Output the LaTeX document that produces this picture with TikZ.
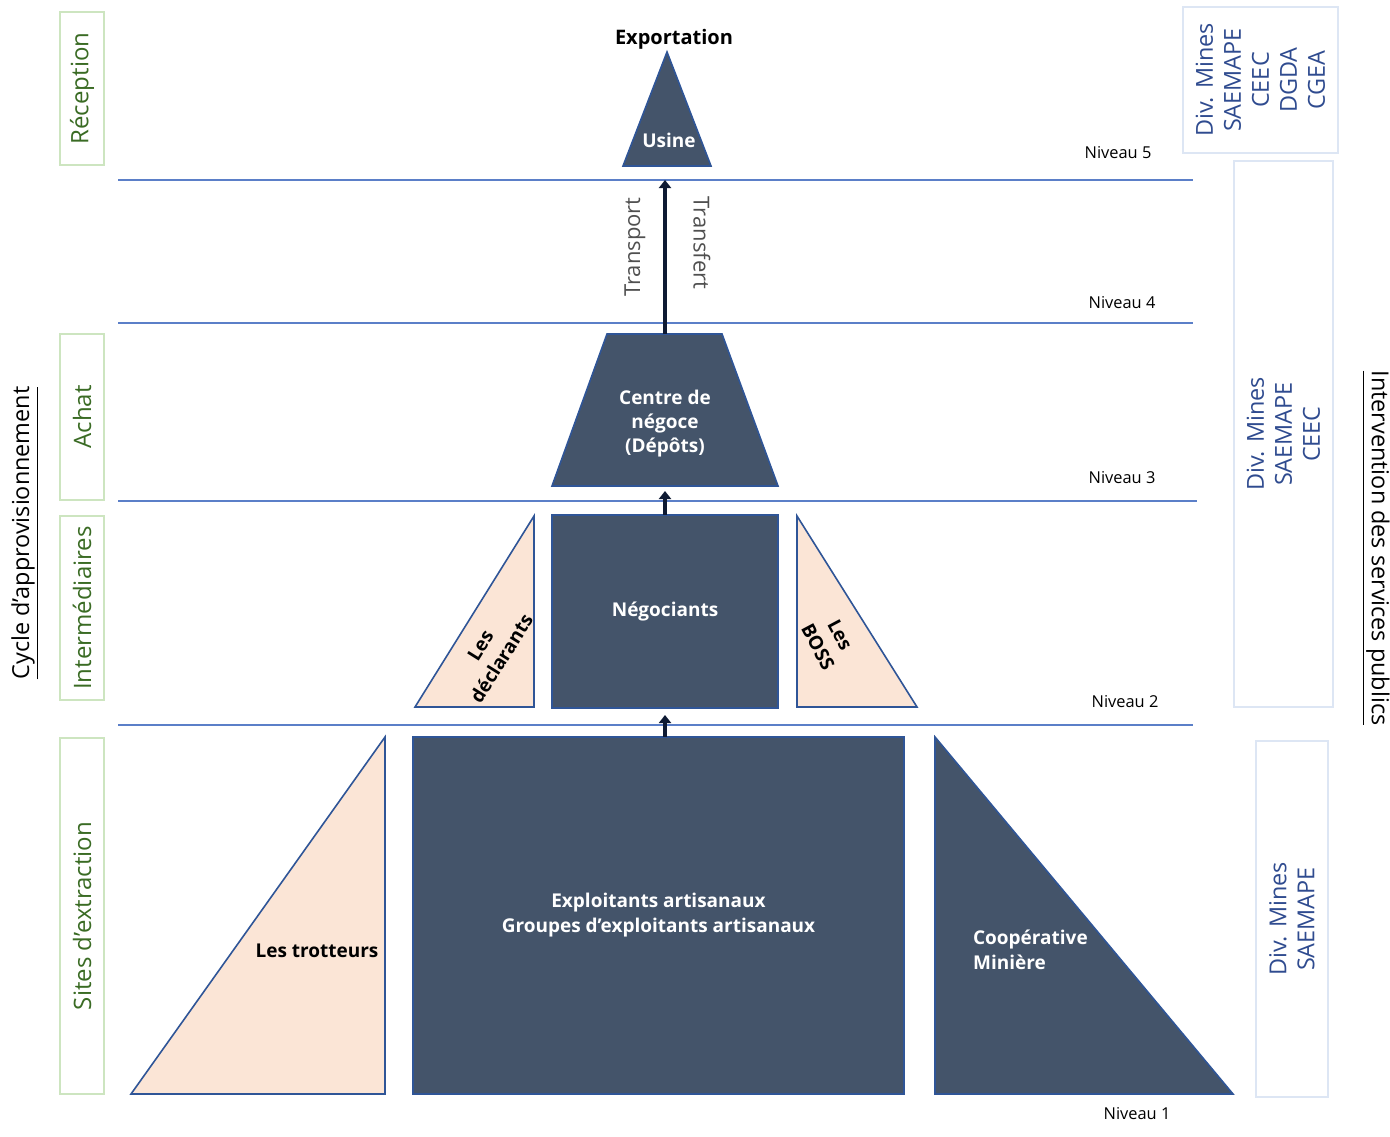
\documentclass[tikz,border=0pt]{standalone}
\usepackage{fontspec}
\setmainfont{Open Sans}
\usetikzlibrary{arrows.meta}
\definecolor{slate}{HTML}{44546A}
\definecolor{peach}{HTML}{FBE5D6}
\definecolor{edge}{HTML}{2F5597}
\definecolor{lvl}{HTML}{5B7FC8}
\definecolor{gbox}{HTML}{CDE5C0}
\definecolor{gtxt}{HTML}{3A6B24}
\definecolor{bbox}{HTML}{DDE6F4}
\definecolor{btxt}{HTML}{2F4B8F}
\definecolor{navy}{HTML}{0E1A33}
\definecolor{graytxt}{HTML}{505050}
\begin{document}
\begin{tikzpicture}[x=0.5pt,y=-0.5pt,
  darkshape/.style={fill=slate,draw=edge,line width=0.8pt},
  peachshape/.style={fill=peach,draw=edge,line width=0.8pt},
  lvline/.style={draw=lvl,line width=0.6pt},
  whitetxt/.style={text=white,font=\bfseries\fontsize{9.5}{12.5}\selectfont,align=center},
  blacktxt/.style={text=black,font=\bfseries\fontsize{9.5}{12.5}\selectfont,align=center},
  niv/.style={text=black,font=\fontsize{8.2}{10}\selectfont},
  greenbox/.style={draw=gbox,line width=1.1pt,rotate=90,minimum height=22pt,inner sep=0pt,text=gtxt,font=\fontsize{12}{14}\selectfont},
  bluebox/.style={draw=bbox,line width=1pt,rotate=90,inner sep=0pt,text=btxt,align=center,font=\fontsize{11.7}{14}\selectfont},
  flowarrow/.style={draw=navy,line width=2pt,-{Triangle[width=6pt,length=4pt]}},
  sidetxt/.style={text=graytxt,font=\fontsize{11}{13}\selectfont},
  titletxt/.style={text=black,font=\fontsize{11.7}{13}\selectfont}
]
\useasboundingbox (0,0) rectangle (1390,1136);

% level lines
\draw[lvline] (118,180) -- (1193,180);
\draw[lvline] (118,323) -- (1193,323);
\draw[lvline] (118,501) -- (1197,501);
\draw[lvline] (118,725) -- (1193,725);

% level labels
\node[niv] (n5) at (1118,153) {Niveau 5};
\node[niv] (n4) at (1122,303) {Niveau 4};
\node[niv] (n3) at (1122,478) {Niveau 3};
\node[niv] (n2) at (1125,702) {Niveau 2};
\node[niv] (n1) at (1137,1114) {Niveau 1};

% left stage boxes
\node[greenbox,minimum width=76.5pt] (rec) at (82,88.5) {Réception};
\node[greenbox,minimum width=83pt] (ach) at (82,417) {Achat};
\node[greenbox,minimum width=92pt] (int) at (82,608) {Intermédiaires};
\node[greenbox,minimum width=178pt] (sit) at (82,916) {Sites d’extraction};
\node[titletxt,rotate=90] (cycle) at (25,533) {\underline{Cycle d’approvisionnement}};

% right service boxes
\node[bluebox,minimum width=73pt,minimum height=77.5pt] (s1) at (1260.5,80) {Div. Mines\\SAEMAPE\\CEEC\\DGDA\\CGEA};
\node[bluebox,minimum width=273pt,minimum height=49.5pt] (s2) at (1283.5,434) {Div. Mines\\SAEMAPE\\CEEC};
\node[bluebox,minimum width=178pt,minimum height=36pt] (s3) at (1292,919) {Div. Mines\\SAEMAPE};
\node[titletxt,rotate=-90] (interv) at (1376,548) {\underline{Intervention des services publics}};

% level 5 : usine
\draw[darkshape] (667,52) -- (711,166) -- (623,166) -- cycle;
\coordinate (usinebase) at (665,166);
\node[whitetxt] (usine) at (669,140) {Usine};
\node[blacktxt,font=\bfseries\fontsize{10}{12}\selectfont] (export) at (674,39) {Exportation};

% level 3 : centre de negoce
\draw[darkshape] (607,334) -- (722,334) -- (778,486) -- (552,486) -- cycle;
\coordinate (cdntop) at (665,334);
\coordinate (cdnbot) at (665,486);
\node[whitetxt,font=\bfseries\fontsize{9.5}{12}\selectfont] (cdn) at (665,424) {Centre de\\négoce\\(Dépôts)};

\draw[flowarrow,shorten >=7pt] (cdntop) -- (usinebase);
\node[sidetxt,rotate=90] (transport) at (635,247) {Transport};
\node[sidetxt,rotate=-90] (transfert) at (702,243) {Transfert};

% level 2
\node[darkshape,minimum width=113pt,minimum height=96.5pt,whitetxt] (neg) at (665,611.5) {Négociants};
\coordinate (negtop) at (665,515);
\coordinate (negbot) at (665,708);
\draw[peachshape] (415,707) -- (534,707) -- (534,516) -- cycle;
\node[blacktxt,rotate=58,inner sep=1pt] (decl) at (491,652) {Les\\déclarants};
\draw[peachshape] (797,516) -- (797,707) -- (917,707) -- cycle;
\node[blacktxt,rotate=-62,inner sep=1pt] (boss) at (829,641) {Les\\BOSS};
\draw[flowarrow,shorten >=2.5pt] (negtop) -- (cdnbot);

% level 1
\node[darkshape,minimum width=245.5pt,minimum height=178.5pt,whitetxt] (exp) at (658.5,915.5) {Exploitants artisanaux\\Groupes d’exploitants artisanaux};
\coordinate (exptop) at (665,737);
\draw[peachshape] (131,1094) -- (385,1094) -- (385,737) -- cycle;
\node[blacktxt] (trot) at (317,951) {Les trotteurs};
\draw[darkshape] (935,737) -- (935,1094) -- (1233,1094) -- cycle;
\node[whitetxt,align=left,anchor=west] (coop) at (966,950) {Coopérative\\Minière};
\draw[flowarrow,shorten >=3.5pt] (exptop) -- (negbot);
\end{tikzpicture}
\end{document}
